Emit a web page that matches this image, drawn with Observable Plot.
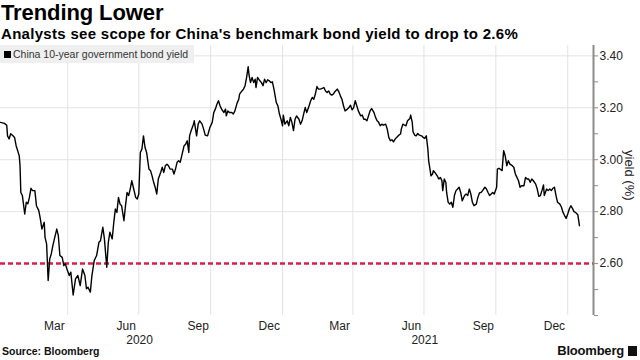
<!DOCTYPE html>
<html>
<head>
<meta charset="utf-8">
<script src="https://cdn.jsdelivr.net/npm/d3@7"></script>
<script src="https://cdn.jsdelivr.net/npm/@observablehq/plot@0.6"></script>
<style>
  html, body { margin: 0; padding: 0; background: #fff; }
  #wrap { position: relative; width: 640px; height: 360px; overflow: hidden; font-family: "Liberation Sans", Arial, sans-serif; }
  #title { position: absolute; left: 1px; top: 0px; font-size: 22px; font-weight: bold; color: #000; letter-spacing: -0.1px; }
  #subtitle { position: absolute; left: 1px; top: 25px; font-size: 15px; font-weight: bold; color: #000; letter-spacing: 0.3px; white-space: nowrap; }
  #chart { position: absolute; left: 0; top: 42px; }
  #legend { position: absolute; left: 0; top: 45px; height: 18px; background: #efefef; font-family: "Liberation Sans Narrow", "Liberation Sans", sans-serif; font-size: 10.5px; color: #333; line-height: 18px; padding: 0 6px 0 4px; white-space: nowrap; }
  #legend .sw { display: inline-block; width: 7px; height: 7px; background: #000; margin-right: 2px; vertical-align: 0px; }
  #ylabel { position: absolute; left: 622px; top: 150px; writing-mode: vertical-rl; font-family: "Liberation Sans", sans-serif; font-size: 13px; color: #222; }
  #source { position: absolute; left: 2px; top: 345px; font-size: 10.5px; font-weight: bold; color: #111; }
  #brand { position: absolute; right: 3px; top: 343px; font-size: 13px; font-weight: bold; color: #111; letter-spacing: -0.2px; }
  #brand .ic { display: inline-block; width: 9px; height: 10px; background: #111; margin-left: 4px; vertical-align: -1px; }
</style>
</head>
<body>
<div id="wrap">
  <div id="title">Trending Lower</div>
  <div id="subtitle">Analysts see scope for China's benchmark bond yield to drop to 2.6%</div>
  <div id="chart"></div>
  <div id="legend"><span class="sw"></span>China 10-year government bond yield</div>
  <div id="ylabel">yield (%)</div>
  <div id="source">Source: Bloomberg</div>
  <div id="brand">Bloomberg<span class="ic"></span></div>
</div>
<script>
const dates = [
"2020-01-06","2020-01-11","2020-01-14","2020-01-15","2020-01-17","2020-01-19","2020-01-22","2020-01-24","2020-01-26","2020-01-30",
"2020-01-31","2020-02-01","2020-02-03","2020-02-06","2020-02-08","2020-02-10","2020-02-12","2020-02-14","2020-02-16","2020-02-19",
"2020-02-21","2020-02-24","2020-02-26","2020-02-28","2020-03-02","2020-03-03","2020-03-05","2020-03-07","2020-03-09","2020-03-11",
"2020-03-13","2020-03-15","2020-03-18","2020-03-20","2020-03-22","2020-03-25","2020-03-27","2020-03-29","2020-03-31","2020-04-03",
"2020-04-05","2020-04-08","2020-04-11","2020-04-14","2020-04-17","2020-04-20","2020-04-23","2020-04-25","2020-04-27","2020-04-30",
"2020-05-02","2020-05-05","2020-05-08","2020-05-11","2020-05-13","2020-05-16","2020-05-18","2020-05-21","2020-05-23","2020-05-25",
"2020-05-28","2020-05-30","2020-06-01","2020-06-03","2020-06-05","2020-06-07","2020-06-09","2020-06-12","2020-06-14","2020-06-16",
"2020-06-18","2020-06-20","2020-06-22","2020-06-24","2020-06-27","2020-06-29","2020-07-01","2020-07-03","2020-07-05","2020-07-07",
"2020-07-09","2020-07-11","2020-07-14","2020-07-16","2020-07-18","2020-07-20","2020-07-22","2020-07-24","2020-07-26","2020-07-29",
"2020-07-31","2020-08-02","2020-08-04","2020-08-06","2020-08-08","2020-08-10","2020-08-13","2020-08-15","2020-08-17","2020-08-19",
"2020-08-21","2020-08-23","2020-08-26","2020-08-28","2020-08-30","2020-09-01","2020-09-03","2020-09-04","2020-09-06","2020-09-09",
"2020-09-10","2020-09-13","2020-09-15","2020-09-17","2020-09-20","2020-09-22","2020-09-24","2020-09-27","2020-09-30","2020-10-03",
"2020-10-05","2020-10-07","2020-10-09","2020-10-11","2020-10-13","2020-10-15","2020-10-18","2020-10-20","2020-10-21","2020-10-23",
"2020-10-25","2020-10-28","2020-10-30","2020-11-01","2020-11-04","2020-11-06","2020-11-07","2020-11-10","2020-11-12","2020-11-14",
"2020-11-16","2020-11-18","2020-11-19","2020-11-21","2020-11-23","2020-11-25","2020-11-27","2020-11-28","2020-11-30","2020-12-03",
"2020-12-05","2020-12-07","2020-12-09","2020-12-11","2020-12-13","2020-12-15","2020-12-17","2020-12-19","2020-12-21","2020-12-24",
"2020-12-26","2020-12-28","2020-12-30","2021-01-01","2021-01-02","2021-01-04","2021-01-07","2021-01-09","2021-01-11","2021-01-13",
"2021-01-15","2021-01-17","2021-01-19","2021-01-22","2021-01-24","2021-01-26","2021-01-28","2021-01-30","2021-02-01","2021-02-04",
"2021-02-06","2021-02-08","2021-02-10","2021-02-12","2021-02-14","2021-02-16","2021-02-18","2021-02-20","2021-02-23","2021-02-25",
"2021-02-27","2021-03-01","2021-03-03","2021-03-05","2021-03-07","2021-03-09","2021-03-12","2021-03-14","2021-03-16","2021-03-18",
"2021-03-20","2021-03-22","2021-03-25","2021-03-27","2021-03-29","2021-03-31","2021-04-02","2021-04-04","2021-04-06","2021-04-08",
"2021-04-11","2021-04-13","2021-04-15","2021-04-17","2021-04-19","2021-04-21","2021-04-23","2021-04-25","2021-04-28","2021-04-30",
"2021-05-02","2021-05-04","2021-05-06","2021-05-08","2021-05-10","2021-05-13","2021-05-15","2021-05-17","2021-05-19","2021-05-21",
"2021-05-23","2021-05-25","2021-05-27","2021-05-30","2021-06-01","2021-06-02","2021-06-04","2021-06-06","2021-06-08","2021-06-10",
"2021-06-13","2021-06-14","2021-06-16","2021-06-17","2021-06-19","2021-06-21","2021-06-23","2021-06-25","2021-06-28","2021-06-30",
"2021-07-02","2021-07-04","2021-07-06","2021-07-07","2021-07-08","2021-07-10","2021-07-12","2021-07-13","2021-07-15","2021-07-18",
"2021-07-20","2021-07-22","2021-07-24","2021-07-25","2021-07-27","2021-07-29","2021-07-30","2021-08-01","2021-08-03","2021-08-05",
"2021-08-07","2021-08-09","2021-08-11","2021-08-13","2021-08-15","2021-08-17","2021-08-19","2021-08-22","2021-08-24","2021-08-26",
"2021-08-28","2021-08-30","2021-09-01","2021-09-03","2021-09-06","2021-09-08","2021-09-10","2021-09-12","2021-09-14","2021-09-17",
"2021-09-19","2021-09-21","2021-09-23","2021-09-25","2021-09-27","2021-09-29","2021-10-02","2021-10-03","2021-10-05","2021-10-09",
"2021-10-11","2021-10-13","2021-10-15","2021-10-17","2021-10-19","2021-10-22","2021-10-24","2021-10-26","2021-10-28","2021-10-30",
"2021-11-01","2021-11-03","2021-11-06","2021-11-08","2021-11-10","2021-11-12","2021-11-14","2021-11-16","2021-11-18","2021-11-21",
"2021-11-23","2021-11-25","2021-11-27","2021-11-29","2021-12-01","2021-12-02","2021-12-05","2021-12-07","2021-12-09","2021-12-11",
"2021-12-13","2021-12-15","2021-12-17","2021-12-19","2021-12-22","2021-12-24","2021-12-26","2021-12-28","2021-12-30","2022-01-01",
"2022-01-03","2022-01-05","2022-01-07","2022-01-09","2022-01-11","2022-01-13","2022-01-14","2022-01-16"
];
const yields = [
3.144,3.140,3.133,3.092,3.080,3.100,3.092,3.086,3.054,3.015,
2.977,2.874,2.862,2.791,2.836,2.830,2.855,2.890,2.881,2.881,
2.823,2.804,2.772,2.733,2.759,2.701,2.676,2.535,2.618,2.637,
2.669,2.695,2.733,2.708,2.631,2.624,2.592,2.599,2.579,2.554,
2.567,2.479,2.541,2.554,2.515,2.579,2.554,2.503,2.509,2.490,
2.554,2.612,2.631,2.682,2.688,2.740,2.695,2.586,2.682,2.721,
2.695,2.759,2.810,2.797,2.855,2.829,2.823,2.765,2.823,2.874,
2.862,2.887,2.919,2.894,2.855,2.849,2.868,3.028,3.041,3.092,
3.047,3.028,2.964,2.958,2.938,2.913,2.894,2.868,2.926,2.951,
2.971,2.951,2.977,2.983,2.977,2.964,2.964,2.945,2.964,2.990,
2.996,2.990,3.028,3.054,3.060,3.073,3.028,3.092,3.112,3.137,
3.150,3.092,3.137,3.150,3.137,3.118,3.095,3.092,3.124,3.144,
3.182,3.195,3.214,3.227,3.208,3.195,3.182,3.195,3.169,3.188,
3.182,3.182,3.176,3.188,3.220,3.233,3.253,3.265,3.272,3.285,
3.317,3.358,3.329,3.297,3.317,3.297,3.310,3.278,3.317,3.304,
3.297,3.285,3.310,3.297,3.308,3.304,3.297,3.300,3.272,3.220,
3.208,3.176,3.156,3.131,3.172,3.137,3.150,3.131,3.163,3.144,
3.112,3.156,3.169,3.156,3.137,3.150,3.176,3.201,3.182,3.208,
3.227,3.240,3.233,3.253,3.282,3.272,3.272,3.274,3.278,3.265,
3.259,3.265,3.253,3.249,3.253,3.262,3.272,3.262,3.246,3.233,
3.208,3.188,3.195,3.201,3.210,3.192,3.201,3.227,3.208,3.188,
3.169,3.172,3.156,3.156,3.150,3.169,3.188,3.197,3.182,3.163,
3.150,3.144,3.131,3.137,3.133,3.137,3.118,3.086,3.073,3.077,
3.069,3.079,3.086,3.095,3.099,3.118,3.137,3.133,3.131,3.150,
3.159,3.172,3.144,3.108,3.095,3.092,3.101,3.095,3.092,3.086,
3.082,3.092,3.041,2.996,2.977,2.938,2.945,2.958,2.951,2.938,
2.926,2.932,2.919,2.881,2.926,2.913,2.874,2.836,2.829,2.836,
2.817,2.862,2.881,2.887,2.894,2.874,2.842,2.862,2.868,2.862,
2.887,2.868,2.836,2.823,2.829,2.855,2.872,2.874,2.881,2.894,
2.887,2.874,2.862,2.868,2.874,2.868,2.894,2.964,2.967,2.958,
3.035,3.015,2.977,2.996,2.983,2.977,2.971,2.945,2.932,2.919,
2.894,2.900,2.900,2.932,2.926,2.926,2.913,2.926,2.919,2.906,
2.887,2.859,2.862,2.881,2.903,2.862,2.887,2.881,2.887,2.881,
2.890,2.894,2.862,2.836,2.829,2.817,2.797,2.785,2.774,2.791,
2.810,2.823,2.813,2.800,2.797,2.791,2.787,2.746
];

const monthTicks = ["2020-03-15","2020-06-15","2020-09-15","2020-12-15","2021-03-15","2021-06-15","2021-09-15","2021-12-15"];
const yearTicks = ["2020-07-02","2021-07-02"];
const gridDates = ["2020-04-01","2020-07-01","2020-10-01","2021-01-01","2021-04-01","2021-07-01","2021-10-01","2022-01-01"];
const xDomain = ["2020-01-06","2022-02-03"];
const yDomain = [2.40, 3.44];
const yTicks = [2.4, 2.5, 2.6, 2.7, 2.8, 2.9, 3.0, 3.1, 3.2, 3.3, 3.4];
const yGrid = [2.8, 3.0, 3.2, 3.4];
const target = [2.6];

const parse = s => new Date(s + "T00:00:00Z");
const data = dates.map((d, i) => ({date: parse(d), yield: yields[i]}));
const xEnd = parse(xDomain[1]);

const chart = Plot.plot({
  width: 640,
  height: 303,
  marginLeft: 0,
  marginRight: 47,
  marginTop: 3,
  marginBottom: 30,
  style: {fontFamily: "'Liberation Sans Narrow', 'Liberation Sans', sans-serif", fontSize: "12px", color: "#222", background: "transparent", overflow: "visible"},
  x: {type: "utc", domain: xDomain.map(parse), label: null},
  y: {domain: yDomain, label: null},
  marks: [
    Plot.gridX(gridDates.map(parse), {stroke: "#e3e3e3", strokeOpacity: 1, strokeWidth: 1}),
    Plot.gridY(yGrid, {stroke: "#e3e3e3", strokeOpacity: 1, strokeWidth: 1}),
    Plot.ruleY(target, {stroke: "#d81e4a", strokeWidth: 2.5, strokeDasharray: "5,3"}),
    Plot.line(data, {x: "date", y: "yield", stroke: "#000", strokeWidth: 1.4}),
    Plot.ruleX([xEnd], {stroke: "#8c8c8c", strokeWidth: 2}),
    Plot.axisY(yTicks, {anchor: "right", label: null, tickSize: 4, tickPadding: 2, stroke: "#8c8c8c",
      tickFormat: d => (Math.round(d * 10) % 2 === 0 && d >= 2.55) ? d.toFixed(2) : "", fontSize: 12}),
    Plot.axisX(monthTicks.map(parse), {anchor: "bottom", label: null, tickSize: 0, tickPadding: 6, tickFormat: d3.utcFormat("%b"), fontSize: 12}),
    Plot.axisX(yearTicks.map(parse), {anchor: "bottom", label: null, tickSize: 0, tickPadding: 20, tickFormat: d3.utcFormat("%Y"), fontSize: 12})
  ]
});
document.getElementById("chart").appendChild(chart);
</script>
</body>
</html>
